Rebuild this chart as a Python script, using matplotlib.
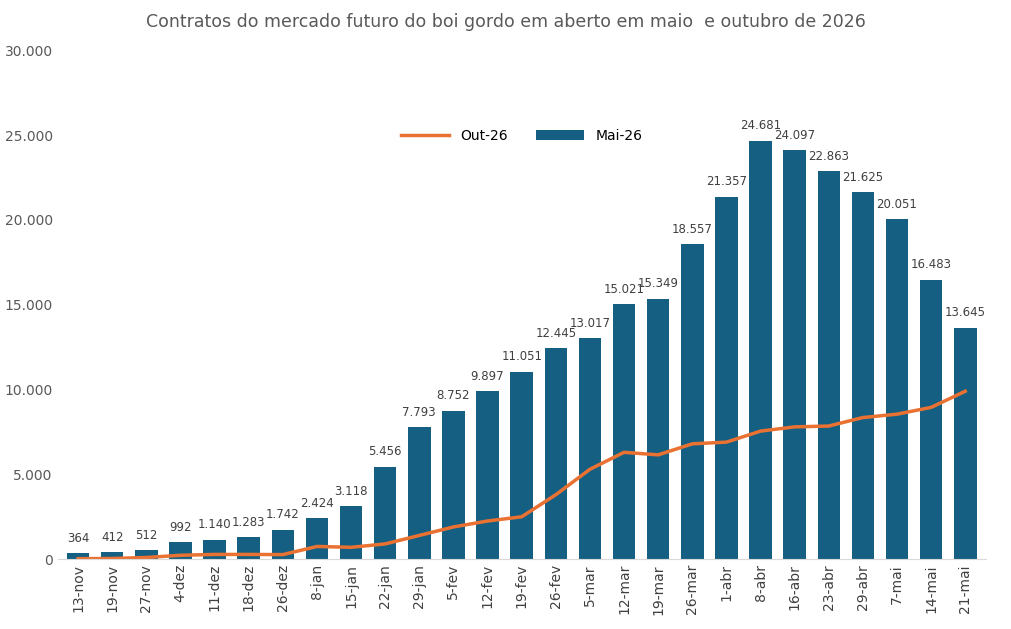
import numpy as np
import matplotlib.pyplot as plt

datas = ['13-nov', '19-nov', '27-nov', '4-dez', '11-dez', '18-dez', '26-dez', '8-jan', '15-jan',
         '22-jan', '29-jan', '5-fev', '12-fev', '19-fev', '26-fev', '5-mar', '12-mar', '19-mar',
         '26-mar', '1-abr', '8-abr', '16-abr', '23-abr', '29-abr', '7-mai', '14-mai', '21-mai']
mai26 = [364, 412, 512, 992, 1140, 1283, 1742, 2424, 3118, 5456, 7793, 8752, 9897, 11051,
         12445, 13017, 15021, 15349, 18557, 21357, 24681, 24097, 22863, 21625, 20051, 16483, 13645]
out26 = [30, 40, 100, 230, 280, 280, 270, 750, 700, 900, 1400, 1900, 2250, 2500, 3800, 5300,
         6300, 6150, 6800, 6900, 7550, 7800, 7850, 8350, 8550, 8950, 9900]

fig = plt.figure(figsize=(10.11, 6.29), dpi=100)
ax = fig.add_axes([0.057, 0.111, 0.918, 0.809])
x = np.arange(len(datas))
ax.bar(x, mai26, width=0.66, color='#156082', label='Mai-26')
ax.plot(x, out26, color='#E97132', lw=2.5, label='Out-26')
for i, v in enumerate(mai26):
    ax.text(i, v + 500, f'{v:,}'.replace(',', '.'), ha='center', va='bottom', fontsize=8.5, color='#404040')

ax.set_ylim(0, 30000)
ax.set_xlim(-0.6, len(datas) - 0.4)
ax.set_yticks(range(0, 30001, 5000))
ax.set_yticklabels([f'{v:,}'.replace(',', '.') for v in range(0, 30001, 5000)], fontsize=10, color='#595959')
ax.set_xticks(x)
ax.set_xticklabels(datas, rotation=90, fontsize=10, color='#404040')
ax.tick_params(length=0)
for s in ['top', 'right', 'left']:
    ax.spines[s].set_visible(False)
ax.spines['bottom'].set_color('#d9d9d9')
ax.legend(loc='upper center', bbox_to_anchor=(0.5, 0.87), ncol=2, frameon=False, fontsize=10,
          handlelength=3.5)
fig.suptitle('Contratos do mercado futuro do boi gordo em aberto em maio  e outubro de 2026',
             y=0.98, fontsize=12.5, color='#595959')
fig.savefig('out.png')
